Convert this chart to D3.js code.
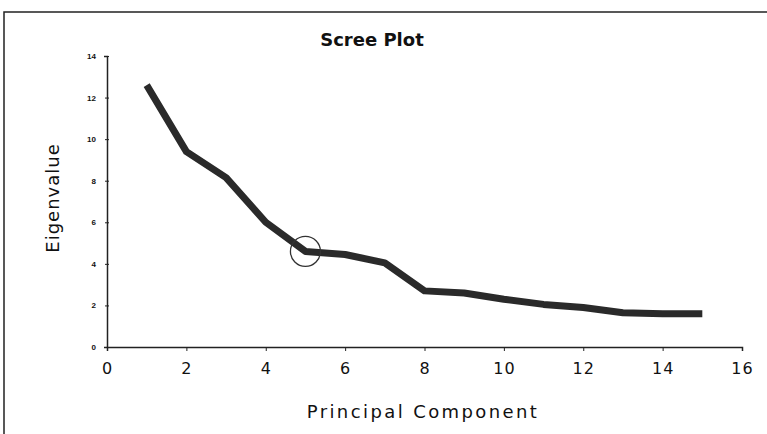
<!DOCTYPE html>
<html><head><meta charset="utf-8">
<script src="https://cdn.jsdelivr.net/npm/d3@7"></script>
<style>body{margin:0;background:#fff}svg{display:block}</style>
</head><body>
<script>
const components = [1,2,3,4,5,6,7,8,9,10,11,12,13,14,15];
const eigenvalues = [12.6,9.4,8.15,6.0,4.6,4.45,4.05,2.7,2.6,2.3,2.05,1.9,1.65,1.6,1.6];
const xTicks = [0,2,4,6,8,10,12,14,16];
const yTicks = [0,2,4,6,8,10,12,14];
const elbow = 5;

const W=767,H=434;
const svg=d3.select("body").append("svg").attr("width",W).attr("height",H);
svg.append("rect").attr("width",W).attr("height",H).attr("fill","#fff");
// frame
svg.append("path").attr("d","M4,"+(H+2)+"V12H"+(W+2)).attr("fill","none").attr("stroke","#222").attr("stroke-width",1.5);

const x=d3.scaleLinear().domain([0,16]).range([107,742]);
const y=d3.scaleLinear().domain([0,14]).range([347,56]);

// y axis
const ya=svg.append("g").attr("transform","translate(107,0)")
  .call(d3.axisLeft(y).tickValues(yTicks).tickSize(3).tickPadding(8));
ya.select(".domain").attr("stroke","#222").attr("stroke-width",1.5);
ya.selectAll(".tick line").attr("stroke","#222").attr("x2",-2).attr("x1",2);
ya.selectAll("text").attr("font-family","Liberation Sans, Arial").attr("font-size",8).attr("font-weight","bold").attr("fill","#111");

// x axis
const xa=svg.append("g").attr("transform","translate(0,347)")
  .call(d3.axisBottom(x).tickValues(xTicks).tickSize(4).tickSizeOuter(4).tickPadding(12));
xa.select(".domain").attr("stroke","#222").attr("stroke-width",1.5);
xa.selectAll(".tick line").attr("stroke","#222");
xa.selectAll("text").attr("font-family","DejaVu Sans, sans-serif").attr("font-size",16).attr("fill","#111").attr("letter-spacing",1);

// line
const line=d3.line().x((d,i)=>x(components[i])).y(d=>y(d));
svg.append("path").datum(eigenvalues).attr("d",line).attr("fill","none")
  .attr("stroke","#2a2a2a").attr("stroke-width",7).attr("stroke-linejoin","round");

// elbow circle
svg.append("circle").attr("cx",x(elbow)).attr("cy",y(eigenvalues[elbow-1])).attr("r",15)
  .attr("fill","none").attr("stroke","#333").attr("stroke-width",1.3);

// title
svg.append("text").attr("x",372).attr("y",46).attr("text-anchor","middle")
  .attr("font-family","DejaVu Sans, sans-serif").attr("font-weight","bold").attr("font-size",18).attr("fill","#111").text("Scree Plot");
svg.append("text").attr("x",423).attr("y",418).attr("text-anchor","middle")
  .attr("font-family","DejaVu Sans, sans-serif").attr("font-size",18).attr("letter-spacing",2.4).attr("fill","#111").text("Principal Component");
svg.append("text").attr("transform","translate(59,198) rotate(-90)").attr("text-anchor","middle")
  .attr("font-family","DejaVu Sans, sans-serif").attr("font-size",18).attr("letter-spacing",1).attr("fill","#111").text("Eigenvalue");
</script>
</body></html>
